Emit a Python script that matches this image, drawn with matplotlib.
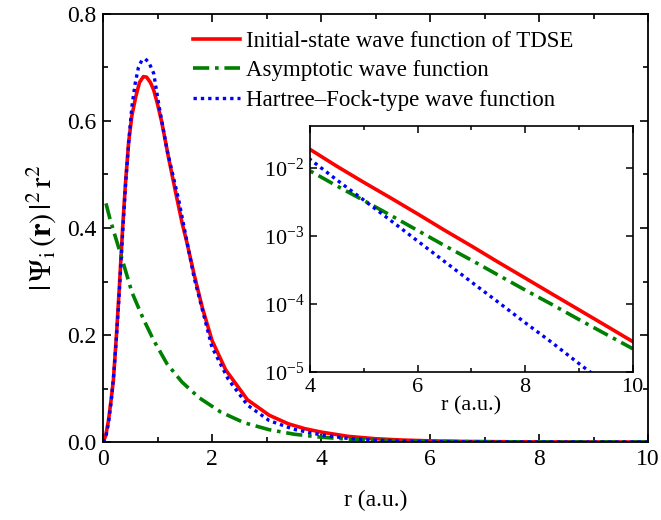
import matplotlib
matplotlib.use('Agg')
import matplotlib.pyplot as plt
from matplotlib.ticker import MultipleLocator, NullLocator, FixedLocator

plt.rcParams['font.family'] = ['Liberation Serif', 'DejaVu Serif']
plt.rcParams['mathtext.fontset'] = 'stix'

# values
r_tdse = [0.0, 0.05, 0.1, 0.15, 0.19, 0.25, 0.3, 0.36, 0.41, 0.47, 0.53, 0.6, 0.67, 0.74,
          0.8, 0.87, 0.93, 1.0, 1.08, 1.2, 1.33, 1.45, 1.53, 1.67, 1.82, 2.0, 2.25, 2.65,
          3.05, 3.4, 3.7, 4.0, 4.5, 5.0, 5.5, 6.0, 6.5, 7.0, 7.5, 8.0, 8.5, 9.0, 9.5, 10.0]
psi_tdse = [0.0, 0.012, 0.04, 0.08, 0.115, 0.205, 0.29, 0.40, 0.48, 0.56, 0.61, 0.645, 0.672, 0.683,
            0.682, 0.672, 0.658, 0.632, 0.597, 0.533, 0.468, 0.41, 0.377, 0.314, 0.252, 0.19, 0.135, 0.079,
            0.05, 0.034, 0.025, 0.0186, 0.0105, 0.0061, 0.0036, 0.0021, 0.00121, 0.00071, 0.00041,
            0.00024, 0.00014, 8.2e-5, 4.8e-5, 2.8e-5]

r_asym = [0.055, 0.12, 0.19, 0.33, 0.53, 0.74, 0.93, 1.175, 1.45, 1.76, 2.16, 2.59, 3.05, 3.51,
          4.0, 4.5, 5.0, 5.5, 6.0, 6.5, 7.0, 7.5, 8.0, 8.5, 9.0, 9.5, 10.0]
psi_asym = [0.446, 0.42, 0.396, 0.349, 0.28, 0.23, 0.19, 0.146, 0.112, 0.083, 0.056, 0.036, 0.023, 0.0145,
            0.009, 5.4e-3, 3.3e-3, 2.0e-3, 1.2e-3, 7.2e-4, 4.4e-4, 2.65e-4, 1.6e-4, 9.8e-5, 5.9e-5,
            3.6e-5, 2.2e-5]

r_hf = [0.0, 0.05, 0.1, 0.15, 0.2, 0.25, 0.3, 0.36, 0.42, 0.48, 0.53, 0.59, 0.65, 0.71, 0.775,
        0.84, 0.93, 1.02, 1.175, 1.39, 1.67, 2.0, 2.3, 2.65, 3.05, 3.5, 4.0, 4.5, 5.0, 5.5, 6.0,
        6.5, 7.0, 7.5, 8.0, 8.5, 9.0, 9.5, 10.0]
psi_hf = [0.0, 0.008, 0.035, 0.075, 0.13, 0.2, 0.28, 0.39, 0.49, 0.57, 0.627, 0.67, 0.70, 0.713, 0.716,
          0.71, 0.689, 0.633, 0.546, 0.452, 0.308, 0.177, 0.117, 0.069, 0.040, 0.0238, 0.0133,
          6.6e-3, 3.35e-3, 1.68e-3, 8.4e-4, 4.2e-4, 2.1e-4, 1.06e-4, 5.3e-5, 2.7e-5, 1.33e-5,
          6.7e-6, 3.4e-6]

labels = ['Initial-state wave function of TDSE', 'Asymptotic wave function',
          'Hartree\u2013Fock-type wave function']

red = '#ff0000'
green = '#008000'
blue = '#0000ff'
dashdot = (0, (4.5, 1.6, 1, 1.6))
dotted = (0, (1, 1.2))


def draw(ax):
    ax.plot(r_tdse, psi_tdse, color=red, lw=2.6, label=labels[0])
    ax.plot(r_asym, psi_asym, color=green, lw=2.6, ls=dashdot, label=labels[1])
    ax.plot(r_hf, psi_hf, color=blue, lw=2.4, ls=dotted, label=labels[2])


fig = plt.figure(figsize=(6.61, 5.20), dpi=100)
ax = fig.add_axes([103 / 661, 78 / 520, 545 / 661, 428 / 520])
draw(ax)
ax.set_xlim(0, 10)
ax.set_ylim(0, 0.8)
ax.xaxis.set_minor_locator(MultipleLocator(1))
ax.yaxis.set_minor_locator(MultipleLocator(0.1))
ax.set_xticks([0, 2, 4, 6, 8, 10])
ax.set_xticklabels(['0', '2', '4', '6', '8', '10'])
ax.set_yticks([0, 0.2, 0.4, 0.6, 0.8])
ax.set_yticklabels(['0.0', '0.2', '0.4', '0.6', '0.8'])
ax.tick_params(which='both', direction='in', top=True, right=True, labelsize=17, width=1.2)
ax.tick_params(which='major', length=6, pad=5)
ax.tick_params(which='minor', length=3.5)
for s in ax.spines.values():
    s.set_linewidth(1.3)
ax.set_xlabel('r (a.u.)', fontsize=17, labelpad=14)
ax.set_ylabel(r'$|\,\Psi_{\mathrm{i}}\,(\mathbf{r})\,|^2\,\mathrm{r}^2$', fontsize=22, labelpad=6)

leg = ax.legend(loc='upper left', bbox_to_anchor=(0.165, 0.96), frameon=False,
                fontsize=16.5, handlelength=2.05, handletextpad=0.28, labelspacing=0.36,
                borderaxespad=0, borderpad=0)

# inset with log scale
ins = fig.add_axes([310 / 661, 148 / 520, 322.7 / 661, 246 / 520])
draw(ins)
ins.set_yscale('log')
ins.set_xlim(4, 10)
ins.set_ylim(1e-5, 0.041)
ins.xaxis.set_major_locator(MultipleLocator(2))
ins.xaxis.set_minor_locator(MultipleLocator(1))
ins.yaxis.set_major_locator(FixedLocator([1e-5, 1e-4, 1e-3, 1e-2]))
ins.yaxis.set_minor_locator(NullLocator())
ins.tick_params(which='both', direction='in', top=True, right=True, labelsize=16, width=1.1)
ins.tick_params(which='major', length=5, pad=4)
ins.tick_params(which='minor', length=3)
for s in ins.spines.values():
    s.set_linewidth(1.2)
ins.set_xlabel('r (a.u.)', fontsize=16, labelpad=0)

fig.savefig('out.png', dpi=100)
